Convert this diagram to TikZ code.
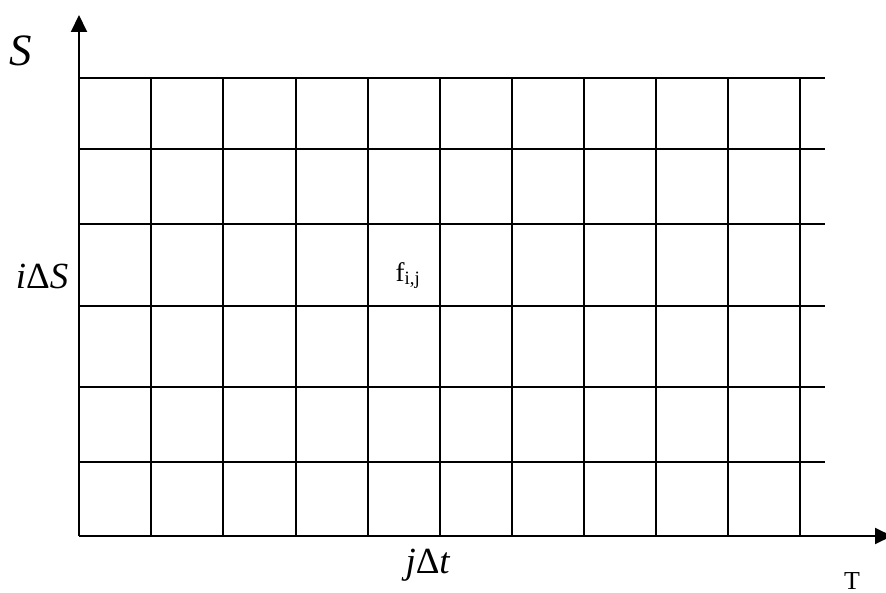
\documentclass[tikz,border=0pt]{standalone}
\usepackage{fontspec}
\setmainfont{Liberation Serif}
\usetikzlibrary{arrows.meta}
\tikzset{
  gridline/.style={line width=1.7bp, black},
  axisline/.style={line width=2bp, black, -{Triangle[width=16bp,length=17bp]}},
  lbl/.style={inner sep=0pt, anchor=base}
}
\begin{document}
\begin{tikzpicture}[x=1bp,y=-1bp]
\useasboundingbox (0,0) rectangle (886,593);
% grid
\foreach \y in {78,149,224,306,387,462} \draw[gridline] (79,\y) -- (825,\y);
\foreach \x in {151,223,296,368,440,512,584,656,728,800} \draw[gridline] (\x,78) -- (\x,536);
% axes
\coordinate (origin) at (79,536);
\coordinate (ytip) at (79,15);
\coordinate (xtip) at (892,536);
\draw[axisline] (origin) -- (ytip);
\draw[axisline] (origin) -- (xtip);
% labels
\node[lbl] (S) at (21,66) {\fontsize{45}{45}\selectfont\textit{S}};
\node[lbl] (iDS) at (42,288) {\fontsize{37}{37}\selectfont\textit{i}Δ\textit{S}};
\node[lbl] (fij) at (408,281) {\fontsize{27}{27}\selectfont f\textsubscript{i,j}};
\node[lbl] (jDt) at (428,573) {\fontsize{37}{37}\selectfont\textit{j}Δ\textit{t}};
\node[lbl] (T) at (852,589) {\fontsize{26}{26}\selectfont T};
\end{tikzpicture}
\end{document}
